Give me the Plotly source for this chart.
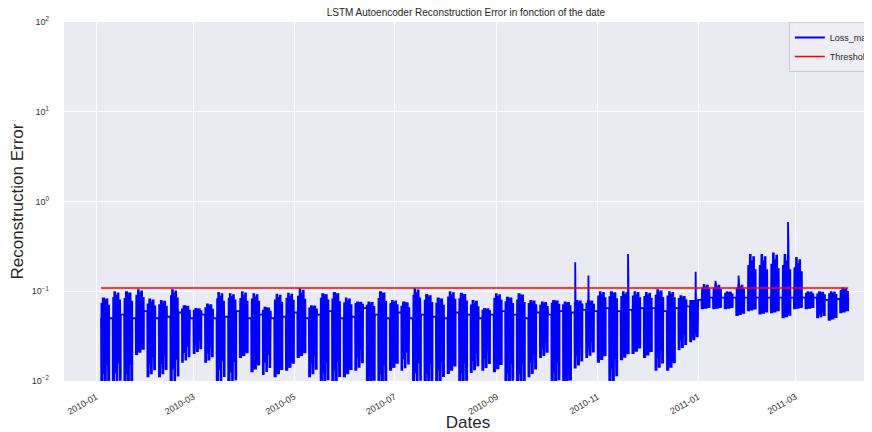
import math
import pandas as pd
import plotly.graph_objects as go

# ---------------- data ----------------
first_monday = "2010-01-04"          # first weekly block of readings
threshold = 0.109

# per-week envelope of the reconstruction error (weekday blocks)
week_top = [
    0.085, 0.100, 0.100, 0.105, 0.083, 0.080, 0.105, 0.070, 0.065, 0.073,
    0.098, 0.095, 0.100, 0.095, 0.067, 0.094, 0.096, 0.108, 0.070, 0.095,
    0.098, 0.085, 0.077, 0.077, 0.100, 0.080, 0.077, 0.108, 0.093, 0.085,
    0.100, 0.096, 0.080, 0.065, 0.095, 0.087, 0.095, 0.080, 0.077, 0.080,
    0.077, 0.080, 0.080, 0.100, 0.100, 0.100, 0.100, 0.098, 0.105, 0.100,
    0.090, 0.080, 0.120, 0.120, 0.100, 0.120, 0.260, 0.260, 0.270, 0.260,
    0.240, 0.100, 0.100, 0.100, 0.110]
week_bottom = [
    0.008, 0.008, 0.008, 0.0195, 0.011, 0.011, 0.009, 0.016, 0.020, 0.016,
    0.009, 0.008, 0.018, 0.0125, 0.0117, 0.011, 0.013, 0.018, 0.011, 0.008,
    0.009, 0.011, 0.013, 0.008, 0.008, 0.013, 0.013, 0.008, 0.008, 0.009,
    0.012, 0.008, 0.0123, 0.013, 0.0125, 0.008, 0.008, 0.011, 0.018, 0.008,
    0.008, 0.0138, 0.018, 0.016, 0.009, 0.017, 0.020, 0.018, 0.013, 0.013,
    0.022, 0.027, 0.063, 0.063, 0.063, 0.053, 0.060, 0.055, 0.057, 0.050,
    0.063, 0.063, 0.050, 0.047, 0.057]
# level of the weekend connecting segment after each week
week_mid = [
    0.050, 0.055, 0.050, 0.060, 0.050, 0.052, 0.058, 0.050, 0.055, 0.050,
    0.052, 0.060, 0.050, 0.055, 0.050, 0.052, 0.058, 0.050, 0.055, 0.060,
    0.050, 0.052, 0.065, 0.055, 0.050, 0.058, 0.050, 0.055, 0.052, 0.050,
    0.058, 0.055, 0.050, 0.055, 0.060, 0.055, 0.050, 0.058, 0.055, 0.060,
    0.058, 0.062, 0.060, 0.065, 0.060, 0.062, 0.065, 0.065, 0.060, 0.065,
    0.068, 0.080, 0.085, 0.085, 0.085, 0.085, 0.085, 0.085, 0.085, 0.085,
    0.085, 0.085, 0.080, 0.082, 0.085]
# how far each weekday's swings reach towards the week's envelope
weekday_peak_reach = [0.75, 1.00, 0.85, 0.95, 0.65]
weekday_trough_reach = [1.00, 0.78, 0.95, 0.65, 0.88]

# isolated peaks
spike_times = ["2010-10-18 12:00", "2010-10-26 12:00", "2010-11-19 12:00",
               "2010-12-30 12:00", "2011-01-11 12:00", "2011-01-25 12:00",
               "2011-02-24 12:00"]
spike_values = [0.21, 0.15, 0.26, 0.165, 0.13, 0.15, 0.59]

tick_dates = ["2010-01-01", "2010-03-01", "2010-05-01", "2010-07-01",
              "2010-09-01", "2010-11-01", "2011-01-01", "2011-03-01"]
tick_labels = ["2010-01", "2010-03", "2010-05", "2010-07",
               "2010-09", "2010-11", "2011-01", "2011-03"]
y_tick_vals = [0.01, 0.1, 1, 10, 100]
y_tick_text = ["10<sup>\u22122</sup>", "10<sup>\u22121</sup>", "10<sup>0</sup>",
               "10<sup>1</sup>", "10<sup>2</sup>"]

# ---------------- assemble the series ----------------
times, vals = [], []
start = pd.Timestamp(first_monday)
prev_mid = week_mid[0]
for w in range(len(week_top)):
    monday = start + pd.Timedelta(days=7 * w)
    times.append(monday)
    vals.append(prev_mid)
    lm = math.log10(week_mid[w])
    lt = math.log10(week_top[w])
    lb = math.log10(week_bottom[w])
    for d in range(5):
        peak = 10 ** (lm + weekday_peak_reach[d] * (lt - lm))
        trough = 10 ** (lm + weekday_trough_reach[d] * (lb - lm))
        for k in range(12):
            t = monday + pd.Timedelta(days=d, hours=1 + 2 * k)
            times.append(t)
            vals.append(peak if k % 2 == 0 else trough)
    times.append(monday + pd.Timedelta(days=5))
    vals.append(week_mid[w])
    prev_mid = week_mid[w]

for st, sv in zip(spike_times, spike_values):
    times.append(pd.Timestamp(st))
    vals.append(sv)

series = pd.Series(vals, index=pd.DatetimeIndex(times)).sort_index()

# ---------------- figure ----------------
font_family = "Liberation Sans, Arial, sans-serif"
fig = go.Figure()
fig.add_trace(go.Scatter(
    x=series.index, y=series.values, mode="lines", name="Loss_mae",
    line=dict(color="#0000FF", width=1.8)))
fig.add_trace(go.Scatter(
    x=[series.index[0], series.index[-1]], y=[threshold, threshold],
    mode="lines", name="Threshold", line=dict(color="#FF0000", width=1.5)))

fig.update_layout(
    width=864, height=424,
    margin=dict(l=56, r=0, t=14, b=51, autoexpand=False),
    paper_bgcolor="white", plot_bgcolor="#EAEAF2",
    font=dict(family=font_family, color="#262626"),
    title=dict(text="LSTM Autoencoder Reconstruction Error in fonction of the date",
               x=0.530, xanchor="center", y=0.990, yanchor="middle",
               font=dict(size=10, color="#262626")),
    showlegend=True,
    legend=dict(x=0.897, y=1.0, xanchor="left", yanchor="top",
                bgcolor="rgba(238,238,244,0.9)", bordercolor="#cccccc",
                borderwidth=1, font=dict(size=9, color="#262626"),
                itemwidth=30, tracegroupgap=0),
)
fig.update_xaxes(
    type="date",
    range=["2009-12-12 13:00", "2011-04-16 10:00"],
    tickvals=tick_dates, ticktext=tick_labels, tickangle=-30,
    tickfont=dict(size=9, color="#333333"),
    ticklabelstandoff=8,
    showgrid=True, gridcolor="white", gridwidth=1,
    zeroline=False, showline=False, ticks="",
    title=dict(text="Dates", font=dict(size=17, color="#262626"), standoff=0),
)
fig.update_yaxes(
    type="log", range=[-2, 2],
    tickvals=y_tick_vals, ticktext=y_tick_text,
    tickfont=dict(size=9, color="#333333"),
    ticklabelstandoff=14,
    showgrid=True, gridcolor="white", gridwidth=1,
    zeroline=False, showline=False, ticks="",
    title=dict(text="Reconstruction Error", font=dict(size=17, color="#262626"),
               standoff=4),
)

fig.write_html("out.html")
